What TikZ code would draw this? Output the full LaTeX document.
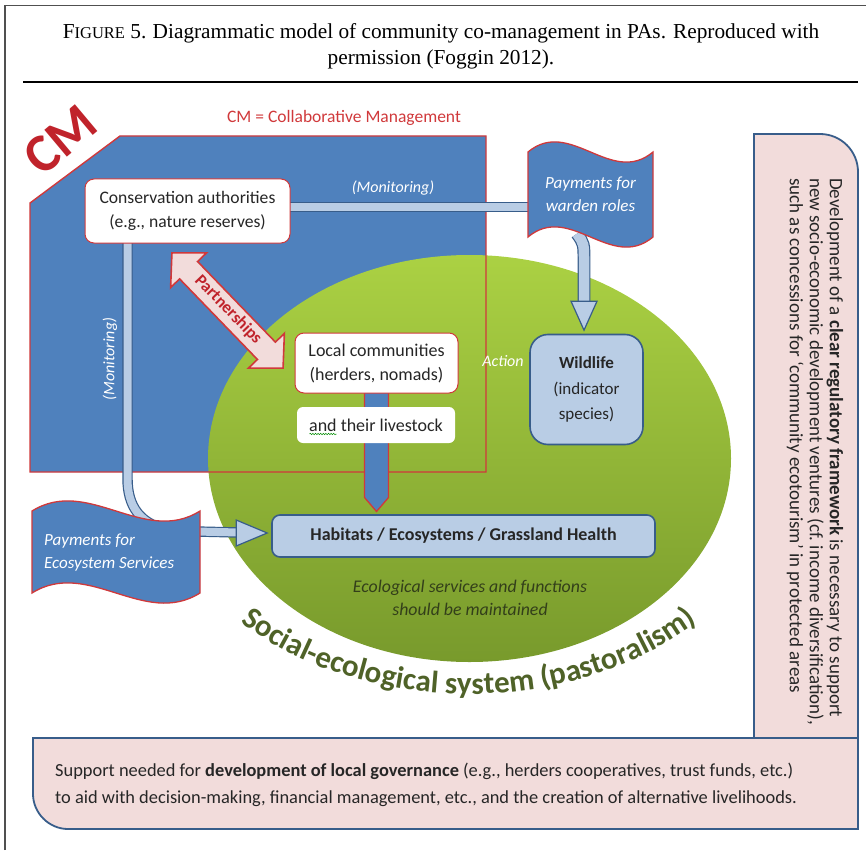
\documentclass[tikz,border=0pt]{standalone}
\usepackage{fontspec}
\setmainfont{Carlito}
\newfontfamily\capfont{Liberation Serif}
\usetikzlibrary{calc,decorations.text,decorations.pathmorphing}
\pgfdeclarelayer{bg}
\pgfdeclarelayer{mid}
\pgfsetlayers{bg,mid,main}

\definecolor{cmblue}{HTML}{4F81BD}
\definecolor{cmred}{HTML}{D0393B}
\definecolor{cmdark}{HTML}{C0232B}
\definecolor{ltblue}{HTML}{B9CDE5}
\definecolor{dkblue}{HTML}{385D8A}
\definecolor{pinkfill}{HTML}{F2DCDB}
\definecolor{txt}{HTML}{262626}
\definecolor{grtop}{HTML}{ABD143}
\definecolor{grmid}{HTML}{9BC03A}
\definecolor{grbot}{HTML}{789A2C}
\definecolor{segreen}{HTML}{4F6228}
\definecolor{ecotxt}{HTML}{333F1A}
\definecolor{framecol}{HTML}{505050}

\newcommand\sz[2]{\fontsize{#1}{#2}\selectfont}

\tikzset{
  whitebox/.style={draw=cmred, line width=1pt, fill=white, rounded corners=9pt,
    inner sep=0pt, align=center, text=txt, font=\sz{18}{24}},
  bluebox/.style={draw=dkblue, line width=1.6pt, fill=ltblue, inner sep=0pt,
    align=center, text=txt, font=\sz{17}{25.5}},
  flagshape/.style={fill=cmblue, draw=cmred, line width=1.3pt},
  flagtext/.style={text=white, font=\sz{17}{23}\itshape, align=center, inner sep=0pt},
  labeltext/.style={text=white, font=\sz{16}{20}\itshape, inner sep=0pt},
  band/.style={draw=dkblue, line width=1.2pt, double=ltblue, double distance=#1},
  headshape/.style={fill=ltblue, draw=dkblue, line width=1.2pt, line join=miter},
  notebox/.style={fill=pinkfill, draw=dkblue, line width=1.8pt},
}

\begin{document}
\begin{tikzpicture}[x=1pt,y=-1pt]
\useasboundingbox (0,0) rectangle (866,850);

% page frame, caption and rule
\draw[framecol, line width=1.3pt] (5,850) -- (5,5.5) -- (866,5.5);
\node[font=\capfont\sz{21.3}{26}, inner sep=0pt] (cap1) at (441,33)
  {{\sz{21.3}{26}F}{\sz{16.5}{26}IGURE}~5.\hspace{0.3em}Diagrammatic model of community co-management in PAs. Reproduced with};
\node[font=\capfont\sz{21.3}{26}, inner sep=0pt] (cap2) at (441,59) {permission (Foggin 2012).};
\draw[line width=2.8pt] (23,82) -- (858,82);

% collaborative management area and the social-ecological system
\begin{pgfonlayer}{bg}
\fill[cmblue] (30,203) -- (120,136) -- (486,136) -- (486,472) -- (30,472) -- cycle;
\shade[top color=grtop, middle color=grmid, bottom color=grbot]
  (469.5,458.5) ellipse[x radius=261.5, y radius=203.5];
\draw[cmred, line width=1.4pt] (30,203) -- (120,136) -- (486,136) -- (486,472) -- (30,472) -- cycle;
\end{pgfonlayer}

% boxes
\node[whitebox, minimum width=205pt, minimum height=64pt, font=\sz{17.6}{24}] (cons) at (187.5,211)
  {Conservation authorities\\(e.g., nature reserves)};
\node[whitebox, minimum width=163pt, minimum height=60pt] (local) at (376.5,363)
  {Local communities\\(herders, nomads)};
\node[whitebox, draw=none, minimum width=158pt, minimum height=36pt, rounded corners=6pt] (stock) at (376,425)
  {and their livestock};
\node[bluebox, minimum width=113pt, minimum height=110pt, rounded corners=18pt] (wild) at (586.5,389.5)
  {\textbf{Wildlife}\\(indicator\\species)};
\node[bluebox, minimum width=383pt, minimum height=42pt, rounded corners=8pt, font=\sz{18}{20}\bfseries] (hab) at (463.5,536)
  {Habitats / Ecosystems / Grassland Health};

% spell-check squiggle under "and"
\draw[decorate, decoration={snake, amplitude=0.7pt, segment length=2.6pt}, draw=green!55!black, line width=0.5pt]
  ($(stock.west)+(13,9)$) -- ($(stock.west)+(40,9)$);

% payment flags
\draw[flagshape] (528,152) .. controls (570,117) and (611,187) .. (653,152) -- (653,237)
  .. controls (611,272) and (570,202) .. (528,237) -- cycle;
\node[flagtext, minimum width=125pt, minimum height=85pt] (warden) at (590.5,194.5) {Payments for\\warden roles};
\draw[flagshape] (32,511) .. controls (88,476) and (144,546) .. (200,511) -- (200,593)
  .. controls (144,628) and (88,558) .. (32,593) -- cycle;
\node[flagtext, align=left, anchor=west] (eco) at (44,553) {Payments for\\Ecosystem Services};

% regulatory framework note and local governance note
\filldraw[notebox] (754,738) -- (754,134) -- (820,134) .. controls (841,134) and (858,151) .. (858,172) -- (858,738);
\filldraw[notebox] (33,738) -- (858,738) -- (858,829) -- (68,829) .. controls (49,829) and (33,813) .. (33,794) -- cycle;
\node[rotate=-90, anchor=west, align=left, text=txt, font=\sz{19}{20}, inner sep=0pt] (reg) at (815,178)
  {Development of a \textbf{clear regulatory framework} is necessary to support\\
   new socio-economic development ventures (cf.\ income diversification),\\
   such as concessions for ‘community ecotourism’ in protected areas};
\node[anchor=west, align=left, text=txt, font=\sz{18.4}{27}, inner sep=0pt] (gov) at (55,784.5)
  {Support needed for \textbf{development of local governance} (e.g., herders cooperatives, trust funds, etc.)\\
   to aid with decision-making, financial management, etc., and the creation of alternative livelihoods.};

% labels
\node[text=cmred, font=\sz{17.5}{20}, inner sep=0pt] (cmdef) at (344,118) {CM = Collaborative Management};
\node[text=cmdark, font=\sz{54}{54}\bfseries, rotate=40, inner sep=0pt] (cmtag) at (60,140) {CM};
\node[labeltext] (mon1) at (393,188) {(Monitoring)};
\node[labeltext, rotate=90] (mon2) at (110,359) {(Monitoring)};
\node[labeltext] (act) at (503,361) {Action};
\node[text=ecotxt, font=\sz{17.8}{23}\itshape, align=center, inner sep=0pt] (ecosv) at (470,598)
  {Ecological services and functions\\should be maintained};
\path[decorate, decoration={text along path, text align=center, text color=segreen,
    text={|\sz{31}{31}\bfseries|Social-ecological system (pastoralism)}}]
  (174.2,546.4) arc[start angle=158, end angle=22, x radius=318, y radius=236];

% partnership double arrow
\begin{scope}[shift={(227.5,310.5)}, rotate=-46]
\filldraw[fill=pinkfill, draw=cmred, line width=1.6pt, line join=miter]
  (-80,0) -- (-56,-25) -- (-56,-12.5) -- (56,-12.5) -- (56,-25) -- (80,0) -- (56,25) -- (56,12.5)
  -- (-56,12.5) -- (-56,25) -- cycle;
\node[transform shape, text=cmdark, font=\sz{17}{17}\bfseries, inner sep=0pt] (part) at (0,-1) {Partnerships};
\end{scope}

% connectors
\begin{pgfonlayer}{mid}
\draw[band=8pt] ($(cons.east)+(-2,-4)$) -- ($(warden.west)+(5,12.5)$);
\draw[band=8pt] ($(cons.south)+(-60,-2)$) -- ($(cons.south)+(-60,235)$)
  .. controls ($(cons.south)+(-60,262)$) and ($(hab.west)+(-132,-10)$) .. ($(hab.west)+(-97,-5)$)
  -- ($(hab.west)+(-32,-3.5)$);
\filldraw[headshape] ($(hab.west)+(-35,-16)$) -- ($(hab.west)+(-35,10)$) -- ($(hab.west)+(-4,-3)$) -- cycle;
\draw[band=10.5pt] ($(warden.south)+(-13.5,-3.5)$) .. controls ($(warden.south)+(-6.5,6.5)$)
  .. ($(warden.south)+(-6.5,24.5)$) -- ($(wild.north)+(-2.5,-30.5)$);
\filldraw[headshape] ($(wild.north)+(-15.5,-32.5)$) -- ($(wild.north)+(10.5,-32.5)$) -- ($(wild.north)+(-2.5,-3.5)$) -- cycle;
\filldraw[fill=cmblue, draw=cmred, line width=1.3pt, line join=miter]
  ($(local.south)+(-12,-2)$) -- ($(local.south)+(12,-2)$) -- ($(local.south)+(12,104)$)
  -- ($(local.south)+(0,118)$) -- ($(local.south)+(-12,104)$) -- cycle;
\end{pgfonlayer}
\end{tikzpicture}
\end{document}
